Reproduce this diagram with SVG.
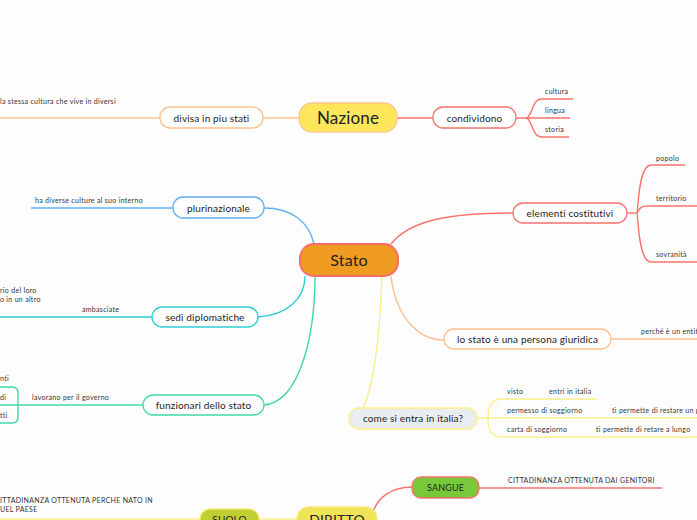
<svg xmlns="http://www.w3.org/2000/svg" width="697" height="520" viewBox="0 0 697 520">
<style>
text{font-family:"Lato","Open Sans","Liberation Sans",sans-serif;fill:#222}
.n{text-anchor:middle;font-size:10px;letter-spacing:0.15px}
.s{font-size:7px;fill:#333;letter-spacing:0.3px}
.ln{fill:none;stroke-width:1.4}
.box{fill:#fff;stroke-width:1.3}
.red{stroke:#f8736e}
.org{stroke:#fdbf8f}
.blu{stroke:#63b0f4}
.tea{stroke:#2ccdd6}
.grn{stroke:#40d9a6}
.yel{stroke:#fbee8c}
</style>
<rect width="697" height="520" fill="#fdfdfd"/>
<g id="connectors">
<path class="ln red" d="M397,118 H433"/>
<path class="ln red" d="M516,118 H570"/>
<path class="ln red" d="M526,118 C532,118 532,99 541,99 H573 M526,118 C532,118 532,137 541,137 H569"/>
<path class="ln org" d="M299,118 H263"/>
<path class="ln org" d="M160,118 H0"/>
<path class="ln blu" d="M264,208 C292,208 309,222 314,244"/>
<path class="ln blu" d="M173,208 H31"/>
<path class="ln tea" d="M258,317 C288,315 305,298 305,276"/>
<path class="ln tea" d="M152,317 H0"/>
<path class="ln grn" d="M264,405 C300,402 315,335 315,276"/>
<path class="ln grn" d="M143,405 H0"/>
<path class="ln grn" d="M0,387 H12 Q18,387 18,393 V417 Q18,423 12,423 H0"/>
<path class="ln red" d="M391,244 C410,220 450,213 513,213"/>
<path class="ln red" d="M627,213 H637"/>
<path class="ln red" d="M637,213 C638,213 638,206 647,206 H697 M637,213 C638,213 638,165 651,165 H685 M637,213 C638,213 638,262 651,262 H697"/>
<path class="ln org" d="M391,276 C395,312 415,340 444,340"/>
<path class="ln org" d="M611,339 H697"/>
<path class="ln yel" d="M382,276 C380,330 375,382 363,408"/>
<path class="ln yel" d="M477,418 H697"/>
<path class="ln yel" d="M488,418 C488,405 492,399 503,399 H597 M488,418 C488,431 492,437 503,437 H697"/>
<path class="ln red" d="M412,487 C392,487 378,497 373,512"/>
<path class="ln red" d="M479,488 H662"/>
<path class="ln yel" d="M297,519 H259"/>
<path class="ln yel" d="M200,519 H0"/>
</g>
<g id="stato">
<rect x="300" y="244" width="98" height="32" rx="14" fill="#f09b21" stroke="#f86c6c" stroke-width="2"/>
<text x="349" y="266" class="n" style="font-size:16px">Stato</text>
</g>
<g id="nazione">
<rect x="299" y="103" width="98" height="29" rx="13" fill="#fde65b" stroke="#fbc78d" stroke-width="1.3"/>
<text x="348" y="124" class="n" style="font-size:17px">Nazione</text>
</g>
<g id="condividono">
<rect x="433" y="107" width="83" height="21" rx="10" class="box red"/>
<text x="474.5" y="121.5" class="n">condividono</text>
<text x="545" y="94" class="s">cultura</text>
<text x="545" y="113" class="s">lingua</text>
<text x="545" y="132" class="s">storia</text>
</g>
<g id="divisa">
<rect x="160" y="107" width="103" height="21" rx="10" class="box org"/>
<text x="211.5" y="121.5" class="n">divisa in piu stati</text>
<text x="0" y="104" class="s">la stessa cultura che vive in diversi</text>
</g>
<g id="plurinazionale">
<rect x="173" y="197" width="91" height="21" rx="10" class="box blu"/>
<text x="218.5" y="211.5" class="n">plurinazionale</text>
<text x="35" y="203" class="s">ha diverse culture al suo interno</text>
</g>
<g id="sedi">
<rect x="152" y="307" width="106" height="20" rx="10" class="box tea"/>
<text x="205" y="320.5" class="n">sedi diplomatiche</text>
<text x="82" y="312" class="s">ambasciate</text>
<text x="0" y="293" class="s">rio del loro</text>
<text x="0" y="302" class="s">o in un altro</text>
</g>
<g id="funzionari">
<rect x="143" y="395" width="121" height="20" rx="10" class="box grn"/>
<text x="203.5" y="408.5" class="n">funzionari dello stato</text>
<text x="32" y="400" class="s">lavorano per il governo</text>
<text x="0" y="381" class="s">nti</text>
<text x="0" y="400" class="s">di</text>
<text x="0" y="418" class="s">tti</text>
</g>
<g id="elementi">
<rect x="513" y="203" width="114" height="20" rx="10" class="box red"/>
<text x="570" y="216.5" class="n">elementi costitutivi</text>
<text x="656" y="161" class="s">popolo</text>
<text x="656" y="201" class="s">territorio</text>
<text x="656" y="257" class="s">sovranità</text>
</g>
<g id="persona">
<rect x="444" y="329" width="167" height="20" rx="10" class="box org"/>
<text x="527.5" y="342.5" class="n">lo stato è una persona giuridica</text>
<text x="641" y="334" class="s">perché è un entit</text>
</g>
<g id="entrare">
<rect x="349" y="408" width="128" height="21" rx="10" fill="#e9edf0" stroke="#fbee8c" stroke-width="1.3"/>
<text x="413" y="422" class="n">come si entra in italia?</text>
<text x="507" y="394" class="s">visto</text>
<text x="549" y="394" class="s">entri in italia</text>
<text x="507" y="413" class="s">permesso di soggiorno</text>
<text x="612" y="413" class="s">ti permette di restare un p</text>
<text x="507" y="432" class="s">carta di soggiorno</text>
<text x="596" y="432" class="s">ti  permette di retare a lungo</text>
</g>
<g id="sangue">
<rect x="412" y="477" width="67" height="21" rx="9" fill="#78c93a" stroke="#f8736e" stroke-width="1.3"/>
<text x="445.5" y="491" class="n" style="font-size:9px">SANGUE</text>
<text x="508" y="483" class="s">CITTADINANZA OTTENUTA DAI GENITORI</text>
</g>
<g id="diritto">
<rect x="297" y="507" width="80" height="28" rx="12" fill="#efe35a" stroke="#f5ea7a" stroke-width="1.3"/>
<text x="337" y="525" class="n" style="font-size:14px">DIRITTO</text>
</g>
<g id="suolo">
<rect x="200" y="509" width="59" height="24" rx="10" fill="#bfcf32" stroke="#f5ea7a" stroke-width="1.3"/>
<text x="229.5" y="523" class="n">SUOLO</text>
<text x="0" y="503" class="s">ITTADINANZA OTTENUTA PERCHE NATO IN</text>
<text x="0" y="512" class="s">UEL PAESE</text>
</g>
</svg>
